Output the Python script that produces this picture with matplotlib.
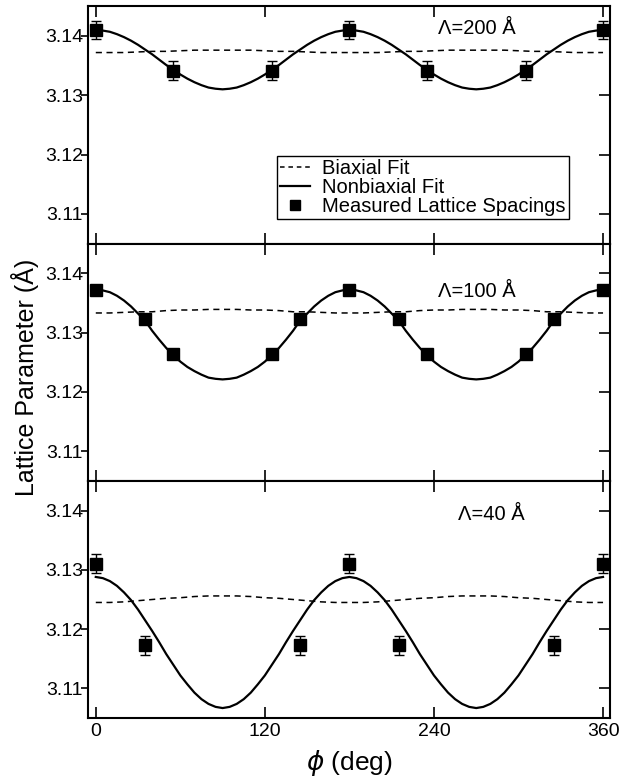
import matplotlib
matplotlib.use("Agg")
import matplotlib.pyplot as plt
from matplotlib.lines import Line2D, TICKLEFT

plt.rcParams['font.family'] = ['Liberation Sans', 'DejaVu Sans']
plt.rcParams['mathtext.fontset'] = 'dejavusans'

# measured lattice spacings (deg, Angstrom)
phi_200 = [0, 55, 125, 180, 235, 305, 360]
a_200 = [3.1410, 3.1341, 3.1341, 3.1410, 3.1341, 3.1341, 3.1410]
err_200 = [0.0016] * 7

phi_100 = [0, 35, 55, 125, 145, 180, 215, 235, 305, 325, 360]
a_100 = [3.1372, 3.1323, 3.1264, 3.1264, 3.1323, 3.1372, 3.1323, 3.1264, 3.1264, 3.1323, 3.1372]

phi_40 = [0, 35, 145, 180, 215, 325, 360]
a_40 = [3.1310, 3.1173, 3.1173, 3.1310, 3.1173, 3.1173, 3.1310]
err_40 = [0.0016] * 7

# nonbiaxial fit curves, read every 5 deg
phi_nb = list(range(0, 361, 5))
nonbiax_200 = [
    3.1410, 3.1409, 3.1407, 3.1403, 3.1398, 3.1392, 3.1385, 3.1377, 3.1369, 3.1360,
    3.1351, 3.1343, 3.1335, 3.1328, 3.1322, 3.1317, 3.1313, 3.1311, 3.1310,
    3.1311, 3.1313, 3.1317, 3.1322, 3.1328, 3.1335, 3.1343, 3.1351, 3.1360,
    3.1369, 3.1377, 3.1385, 3.1392, 3.1398, 3.1403, 3.1407, 3.1409, 3.1410,
    3.1409, 3.1407, 3.1403, 3.1398, 3.1392, 3.1385, 3.1377, 3.1369, 3.1360,
    3.1351, 3.1343, 3.1335, 3.1328, 3.1322, 3.1317, 3.1313, 3.1311, 3.1310,
    3.1311, 3.1313, 3.1317, 3.1322, 3.1328, 3.1335, 3.1343, 3.1351, 3.1360,
    3.1369, 3.1377, 3.1385, 3.1392, 3.1398, 3.1403, 3.1407, 3.1409, 3.1410]
nonbiax_100 = [
    3.1373, 3.1371, 3.1368, 3.1362, 3.1354, 3.1344, 3.1332, 3.1320, 3.1303, 3.1288,
    3.1274, 3.1262, 3.1251, 3.1242, 3.1235, 3.1229, 3.1224, 3.1222, 3.1221,
    3.1222, 3.1224, 3.1229, 3.1235, 3.1242, 3.1251, 3.1262, 3.1274, 3.1288,
    3.1303, 3.1320, 3.1332, 3.1344, 3.1354, 3.1362, 3.1368, 3.1371, 3.1373,
    3.1371, 3.1368, 3.1362, 3.1354, 3.1344, 3.1332, 3.1320, 3.1303, 3.1288,
    3.1274, 3.1262, 3.1251, 3.1242, 3.1235, 3.1229, 3.1224, 3.1222, 3.1221,
    3.1222, 3.1224, 3.1229, 3.1235, 3.1242, 3.1251, 3.1262, 3.1274, 3.1288,
    3.1303, 3.1320, 3.1332, 3.1344, 3.1354, 3.1362, 3.1368, 3.1371, 3.1373]
nonbiax_40 = [
    3.1288, 3.1286, 3.1281, 3.1273, 3.1262, 3.1249, 3.1233, 3.1215, 3.1197, 3.1178,
    3.1158, 3.1140, 3.1122, 3.1107, 3.1093, 3.1082, 3.1074, 3.1069, 3.1067,
    3.1069, 3.1074, 3.1082, 3.1093, 3.1107, 3.1122, 3.1140, 3.1158, 3.1178,
    3.1197, 3.1215, 3.1233, 3.1249, 3.1262, 3.1273, 3.1281, 3.1286, 3.1288,
    3.1286, 3.1281, 3.1273, 3.1262, 3.1249, 3.1233, 3.1215, 3.1197, 3.1178,
    3.1158, 3.1140, 3.1122, 3.1107, 3.1093, 3.1082, 3.1074, 3.1069, 3.1067,
    3.1069, 3.1074, 3.1082, 3.1093, 3.1107, 3.1122, 3.1140, 3.1158, 3.1178,
    3.1197, 3.1215, 3.1233, 3.1249, 3.1262, 3.1273, 3.1281, 3.1286, 3.1288]

# biaxial fit curves, read every 10 deg
phi_bx = list(range(0, 361, 10))
biax_200 = [3.1372, 3.1372, 3.1372, 3.1373, 3.1374, 3.1374, 3.1375, 3.1376, 3.1376, 3.1376,
            3.1376, 3.1376, 3.1375, 3.1374, 3.1374, 3.1373, 3.1372, 3.1372, 3.1372,
            3.1372, 3.1372, 3.1373, 3.1374, 3.1374, 3.1375, 3.1376, 3.1376, 3.1376,
            3.1376, 3.1376, 3.1375, 3.1374, 3.1374, 3.1373, 3.1372, 3.1372, 3.1372]
biax_100 = [3.1333, 3.1333, 3.1334, 3.1335, 3.1335, 3.1337, 3.1338, 3.1338, 3.1339, 3.1339,
            3.1339, 3.1338, 3.1338, 3.1337, 3.1335, 3.1335, 3.1334, 3.1333, 3.1333,
            3.1333, 3.1334, 3.1335, 3.1335, 3.1337, 3.1338, 3.1338, 3.1339, 3.1339,
            3.1339, 3.1338, 3.1338, 3.1337, 3.1335, 3.1335, 3.1334, 3.1333, 3.1333]
biax_40 = [3.1245, 3.1245, 3.1246, 3.1248, 3.1250, 3.1252, 3.1253, 3.1255, 3.1256, 3.1256,
           3.1256, 3.1255, 3.1253, 3.1252, 3.1250, 3.1248, 3.1246, 3.1245, 3.1245,
           3.1245, 3.1246, 3.1248, 3.1250, 3.1252, 3.1253, 3.1255, 3.1256, 3.1256,
           3.1256, 3.1255, 3.1253, 3.1252, 3.1250, 3.1248, 3.1246, 3.1245, 3.1245]

labels = ['\u039b=200 \u00c5', '\u039b=100 \u00c5', '\u039b=40 \u00c5']
label_pos = [(243, 3.1413), (243, 3.1370), (257, 3.1393)]
yticks = [3.11, 3.12, 3.13, 3.14]
xticks = [0, 120, 240, 360]

fig = plt.figure(figsize=(6.2, 7.84), dpi=100)
gs = fig.add_gridspec(3, 1, left=0.142, right=0.984, bottom=0.084, top=0.992, hspace=0)
axes = [fig.add_subplot(gs[i]) for i in range(3)]

panels = [
    (phi_200, a_200, err_200, nonbiax_200, biax_200),
    (phi_100, a_100, None, nonbiax_100, biax_100),
    (phi_40, a_40, err_40, nonbiax_40, biax_40),
]

for i, (ax, (px, py, pe, nb, bx)) in enumerate(zip(axes, panels)):
    ax.plot(phi_bx, bx, color='black', lw=1.1, ls=(0, (4, 3)))
    ax.plot(phi_nb, nb, color='black', lw=1.6)
    if pe is not None:
        ax.errorbar(px, py, yerr=pe, fmt='s', color='black', ms=8, capsize=3.5,
                    elinewidth=1.0, capthick=1.0)
    else:
        ax.plot(px, py, 's', color='black', ms=8)
    ax.set_xlim(-5.5, 365)
    ax.set_ylim(3.105, 3.145)
    ax.set_xticks(xticks)
    ax.set_yticks(yticks)
    ax.set_yticklabels(['%.2f' % t for t in yticks])
    ax.tick_params(axis='x', direction='in', top=True, bottom=True, length=8, width=1.2)
    ax.tick_params(axis='y', direction='in', left=True, right=True,
                   length=8, width=1.2, labelsize=14)
    for s in ax.spines.values():
        s.set_linewidth(1.5)
    ax.text(label_pos[i][0], label_pos[i][1], labels[i], fontsize=14.5, va='center', ha='left')
    if i < 2:
        ax.tick_params(axis='x', labelbottom=False)
    else:
        ax.tick_params(axis='x', labelsize=14)
    # left ticks point outward, right ones inward
    for t in ax.yaxis.get_major_ticks():
        t.tick1line.set_marker(TICKLEFT)
        t.tick1line.set_markersize(5)

handles = [
    Line2D([], [], color='black', lw=1.1, ls=(0, (3, 2.5))),
    Line2D([], [], color='black', lw=1.6),
    Line2D([], [], color='black', marker='s', ms=7, ls='none'),
]
names = ['Biaxial Fit', 'Nonbiaxial Fit', 'Measured Lattice Spacings']
leg = axes[0].legend(handles, names, loc='upper left', bbox_to_anchor=(0.362, 0.37),
                     fontsize=14.5, frameon=True, fancybox=False, framealpha=1,
                     edgecolor='black', handlelength=1.5, labelspacing=0.0,
                     borderpad=0.15, handletextpad=0.6, borderaxespad=0)
leg.get_frame().set_linewidth(1.0)

axes[1].set_ylabel('Lattice Parameter (\u00c5)', fontsize=18)
axes[1].yaxis.set_label_coords(-0.094, 0.437)
axes[2].set_xlabel(r'$\phi$ (deg)', fontsize=19, labelpad=6)

fig.savefig('out.png', dpi=100)
